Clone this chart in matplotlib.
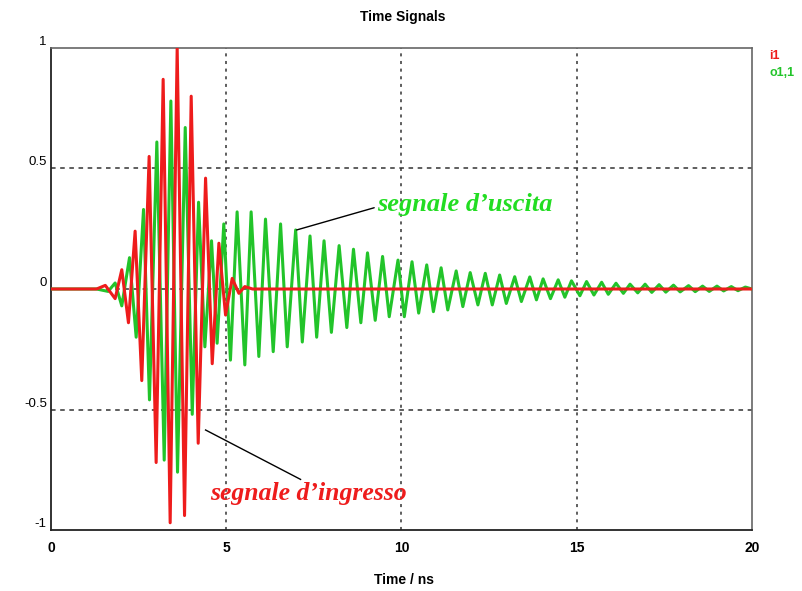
import matplotlib
matplotlib.use("Agg")
import matplotlib.pyplot as plt

# input pulse i1: start, extrema (time in ns, amplitude), end
i1_t = [0.0, 1.3, 1.55, 1.83, 2.02, 2.21, 2.40, 2.59, 2.80, 3.00, 3.20, 3.40,
        3.60, 3.81, 4.00, 4.20, 4.41, 4.60, 4.79, 4.98, 5.17, 5.36, 5.53, 5.75, 20.0]
i1_v = [0.0, 0.0, 0.015, -0.04, 0.08, -0.14, 0.24, -0.38, 0.55, -0.72, 0.87, -0.97,
        1.0, -0.94, 0.80, -0.64, 0.46, -0.31, 0.19, -0.108, 0.044, -0.018, 0.01, 0.0, 0.0]

# output o1,1: start, extrema, end
o11_t = [0.0, 1.3, 1.63, 1.83, 2.02, 2.24, 2.43, 2.64, 2.81, 3.02, 3.23, 3.42,
         3.61, 3.83, 4.03, 4.21, 4.39, 4.58, 4.74, 4.93, 5.12, 5.31, 5.53, 5.71,
         5.93, 6.12, 6.34, 6.55, 6.74, 6.98, 7.17, 7.39, 7.58, 7.79, 8.00, 8.22,
         8.44, 8.63, 8.84, 9.03, 9.25, 9.46, 9.65, 9.90, 10.08, 10.30, 10.49, 10.72,
         10.91, 11.13, 11.32, 11.56, 11.75, 11.96, 12.18, 12.39, 12.59, 12.80, 12.99,
         13.23, 13.42, 13.66, 13.85, 14.04, 14.25, 14.47, 14.66, 14.85, 15.09, 15.28,
         15.49, 15.71, 15.90, 16.12, 16.33, 16.52, 16.74, 16.95, 17.14, 17.35, 17.54,
         17.76, 17.95, 18.19, 18.38, 18.59, 18.78, 19.00, 19.19, 19.41, 19.60, 19.81, 20.0]
o11_v = [0.0, 0.0, -0.01, 0.025, -0.07, 0.13, -0.20, 0.33, -0.46, 0.61, -0.71, 0.78,
         -0.76, 0.67, -0.52, 0.36, -0.24, 0.20, -0.225, 0.27, -0.295, 0.32, -0.315, 0.32,
         -0.28, 0.29, -0.26, 0.27, -0.24, 0.245, -0.22, 0.22, -0.20, 0.20, -0.18, 0.18,
         -0.16, 0.165, -0.14, 0.15, -0.13, 0.135, -0.115, 0.12, -0.115, 0.113, -0.10, 0.10,
         -0.094, 0.088, -0.087, 0.075, -0.073, 0.068, -0.066, 0.065, -0.066, 0.058, -0.06,
         0.051, -0.052, 0.05, -0.045, 0.042, -0.04, 0.038, -0.034, 0.034, -0.028, 0.031,
         -0.025, 0.028, -0.022, 0.024, -0.018, 0.02, -0.016, 0.02, -0.014, 0.018, -0.013,
         0.016, -0.012, 0.014, -0.011, 0.012, -0.01, 0.012, -0.008, 0.01, -0.007, 0.008, 0.0]

x_ticks = [0, 5, 10, 15, 20]
y_ticks = [-1, -0.5, 0, 0.5, 1]
y_ticklabels = ["-1", "-0.5", "0", "0.5", "1"]

RED = "#ee1c1c"
GREEN = "#22c42a"
SANS = "Liberation Sans"


def main():
    fig = plt.figure(figsize=(8.03, 5.91), dpi=100)
    ax = fig.add_axes([0.0635, 0.1032, 0.873, 0.8156])

    ax.plot(o11_t, o11_v, color=GREEN, lw=2.2, zorder=3)
    ax.plot(i1_t, i1_v, color=RED, lw=2.2, zorder=4)

    ax.set_xlim(0, 20)
    ax.set_ylim(-1, 1)
    ax.set_xticks(x_ticks)
    ax.set_xticklabels([str(t) for t in x_ticks], family=SANS,
                       fontweight="bold", fontsize=10)
    ax.set_yticks(y_ticks)
    ax.set_yticklabels(y_ticklabels, family=SANS, fontsize=9.5, va="bottom")
    ax.tick_params(axis="both", length=0)
    ax.tick_params(axis="x", pad=8)
    ax.tick_params(axis="y", pad=3)

    # dotted grid at the inner ticks only
    for t in x_ticks[1:-1]:
        ax.axvline(t, color="#333333", lw=1.1, ls=(0, (2, 3)), zorder=1)
    for v in [-0.5, 0, 0.5]:
        ax.axhline(v, color="#333333", lw=1.1, ls=(0, (3, 3)), zorder=1)

    for side in ["left", "bottom"]:
        ax.spines[side].set_color("#222222")
        ax.spines[side].set_linewidth(1.3)
    for side in ["top", "right"]:
        ax.spines[side].set_color("#666666")
        ax.spines[side].set_linewidth(1.2)

    fig.text(0.502, 0.972, "Time Signals", family=SANS, fontweight="bold",
             fontsize=10, ha="center", va="center")
    fig.text(0.503, 0.018, "Time / ns", family=SANS, fontweight="bold",
             fontsize=10, ha="center", va="center")

    # trace names to the right of the plot
    fig.text(0.958, 0.905, "i1", color=RED, family=SANS, fontweight="bold",
             fontsize=9, ha="left", va="center")
    fig.text(0.958, 0.877, "o1,1", color=GREEN, family=SANS, fontweight="bold",
             fontsize=9, ha="left", va="center")

    ax.annotate("segnale d\u2019uscita", xy=(7.01, 0.245), xytext=(9.3, 0.35),
                color="#22dd22", family="Liberation Serif", fontweight="bold",
                style="italic", fontsize=19, va="center", ha="left",
                arrowprops=dict(arrowstyle="-", color="black", lw=1.0,
                                shrinkA=0, shrinkB=0, relpos=(0, 0.4)))
    ax.annotate("segnale d\u2019ingresso", xy=(4.41, -0.585), xytext=(4.55, -0.85),
                color=RED, family="Liberation Serif", fontweight="bold",
                style="italic", fontsize=18.5, va="center", ha="left")
    ax.plot([4.41, 7.12], [-0.585, -0.79], color="black", lw=1.0, zorder=5)

    fig.savefig("out.png", dpi=100)


if __name__ == "__main__":
    main()
